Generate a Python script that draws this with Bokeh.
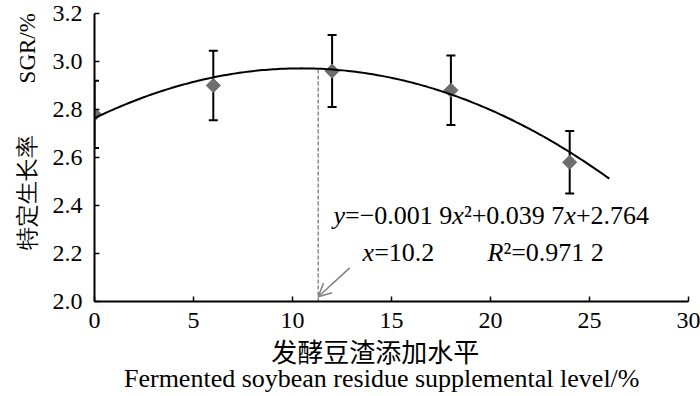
import math
import numpy as np
from bokeh.plotting import figure
from bokeh.models import (Range1d, FixedTicker, PrintfTickFormatter, Whisker, TeeHead,
                          ColumnDataSource, Label, Arrow, OpenHead, LinearAxis)
from bokeh.embed import file_html
from bokeh.resources import INLINE

# ---- data ----
levels = [0, 6, 12, 18, 24]
sgr_mean = [2.78, 2.90, 2.96, 2.88, 2.58]
sgr_sd = [0.14, 0.145, 0.15, 0.145, 0.13]
fit_coef = [-0.0019, 0.0397, 2.764]      # y = a x^2 + b x + c (printed in chart)
fit_x_end = 26.0
optimum_x_drawn = 11.3
x_ticks = [0, 5, 10, 15, 20, 25, 30]
y_ticks = [2.0, 2.2, 2.4, 2.6, 2.8, 3.0, 3.2]

SERIF = "Liberation Serif"
MIXED = "'Liberation Serif', 'Noto Sans CJK SC'"
NB = "\u00a0"

p = figure(width=700, height=396, output_backend="svg", toolbar_location=None,
           x_range=Range1d(0, 30), y_range=Range1d(2.0, 3.2),
           min_border_left=94, min_border_right=12, min_border_top=13, min_border_bottom=95)
p.outline_line_color = None
p.xgrid.visible = False
p.ygrid.visible = False
p.background_fill_color = "white"
p.border_fill_color = "white"

for ax in (p.xaxis[0], p.yaxis[0]):
    ax.axis_line_color = "black"
    ax.axis_line_width = 2
    ax.major_tick_line_color = "black"
    ax.major_tick_line_width = 1.5
    ax.major_tick_in = 5
    ax.major_tick_out = 0
    ax.minor_tick_line_color = None
    ax.major_label_text_font = SERIF
    ax.major_label_text_font_size = "24px"
    ax.major_label_text_color = "black"
    ax.axis_label_text_font_style = "normal"
    ax.axis_label_text_color = "black"

p.xaxis[0].ticker = FixedTicker(ticks=x_ticks)
p.xaxis[0].major_label_standoff = 11
p.xaxis[0].axis_label = "发酵豆渣添加水平" + "\u3000" + NB
p.xaxis[0].axis_label_text_font = MIXED
p.xaxis[0].axis_label_text_font_size = "26px"
p.xaxis[0].axis_label_standoff = 8

p.yaxis[0].ticker = FixedTicker(ticks=y_ticks)
p.yaxis[0].formatter = PrintfTickFormatter(format="%.1f")
p.yaxis[0].major_label_standoff = 12
p.yaxis[0].axis_label = NB * 9 + "特定生长率" + NB * 9 + "SGR/%"
p.yaxis[0].axis_label_text_font = SERIF
p.yaxis[0].axis_label_text_font_size = "23px"
p.yaxis[0].axis_label_standoff = 10

# second x-axis only for the English title line
ax2 = LinearAxis(ticker=FixedTicker(ticks=[]), axis_line_color=None,
                 major_tick_line_color=None, minor_tick_line_color=None,
                 major_label_text_font_size="0px",
                 axis_label="Fermented soybean residue supplemental level/%" + NB * 3,
                 axis_label_text_font=SERIF, axis_label_text_font_size="26px",
                 axis_label_text_font_style="normal", axis_label_text_color="black",
                 axis_label_standoff=-7)
p.add_layout(ax2, "below")

# error bars
upper = [m + s for m, s in zip(sgr_mean, sgr_sd)]
lower = [m - s for m, s in zip(sgr_mean, sgr_sd)]
src = ColumnDataSource(dict(x=levels, y=sgr_mean, upper=upper, lower=lower))
w = Whisker(base="x", upper="upper", lower="lower", source=src,
            line_color="black", line_width=2,
            upper_head=TeeHead(size=9, line_color="black", line_width=2),
            lower_head=TeeHead(size=9, line_color="black", line_width=2))
p.add_layout(w)

# markers (diamonds)
p.scatter("x", "y", source=src, marker="square", angle=math.pi / 4, size=10,
          fill_color="#6e6e6e", line_color="#6e6e6e", line_width=1)

# fitted curve
a, b, c = fit_coef
xs = np.linspace(0, fit_x_end, 200)
ys = a * xs ** 2 + b * xs + c
p.line(xs, ys, line_color="black", line_width=2)

# dashed vertical line at optimum
y_top = a * optimum_x_drawn ** 2 + b * optimum_x_drawn + c
p.segment(x0=[optimum_x_drawn], y0=[2.0], x1=[optimum_x_drawn], y1=[y_top],
          line_color="#8a8a8a", line_width=1.5, line_dash="4 2")

# arrow
p.add_layout(Arrow(end=OpenHead(size=13, line_color="#808080", line_width=1.5),
                   x_start=12.89, y_start=2.14, x_end=optimum_x_drawn, y_end=2.02,
                   line_color="#808080", line_width=1.5))

# mixed italic text segments, positioned with Times metrics
W = {"0": .5, "1": .5, "2": .5, "3": .5, "4": .5, "5": .5, "6": .5, "7": .5, "8": .5, "9": .5,
     ".": .25, " ": .25, "=": .564, "+": .564, "\u2212": .564, "\u00b2": .3,
     "x": .444, "y": .444, "R": .611}

def seg_text(x, y, parts, size=26):
    off = 0.0
    for txt, ital in parts:
        p.add_layout(Label(x=x, y=y, x_offset=off, text=txt, text_font=SERIF,
                           text_font_size=f"{size}px", text_font_style="italic" if ital else "normal",
                           text_align="left", text_baseline="middle", text_color="black"))
        off += sum(W.get(ch, .5) for ch in txt) * size

seg_text(12.07, 2.36, [("y", True), ("=\u22120.001 9", False), ("x", True), ("\u00b2+0.039 7", False),
                       ("x", True), ("+2.764", False)])
seg_text(13.54, 2.205, [("x", True), ("=10.2", False)])
seg_text(19.85, 2.205, [("R", True), ("\u00b2=0.971 2", False)])

open("out.html", "w").write(file_html(p, INLINE))
